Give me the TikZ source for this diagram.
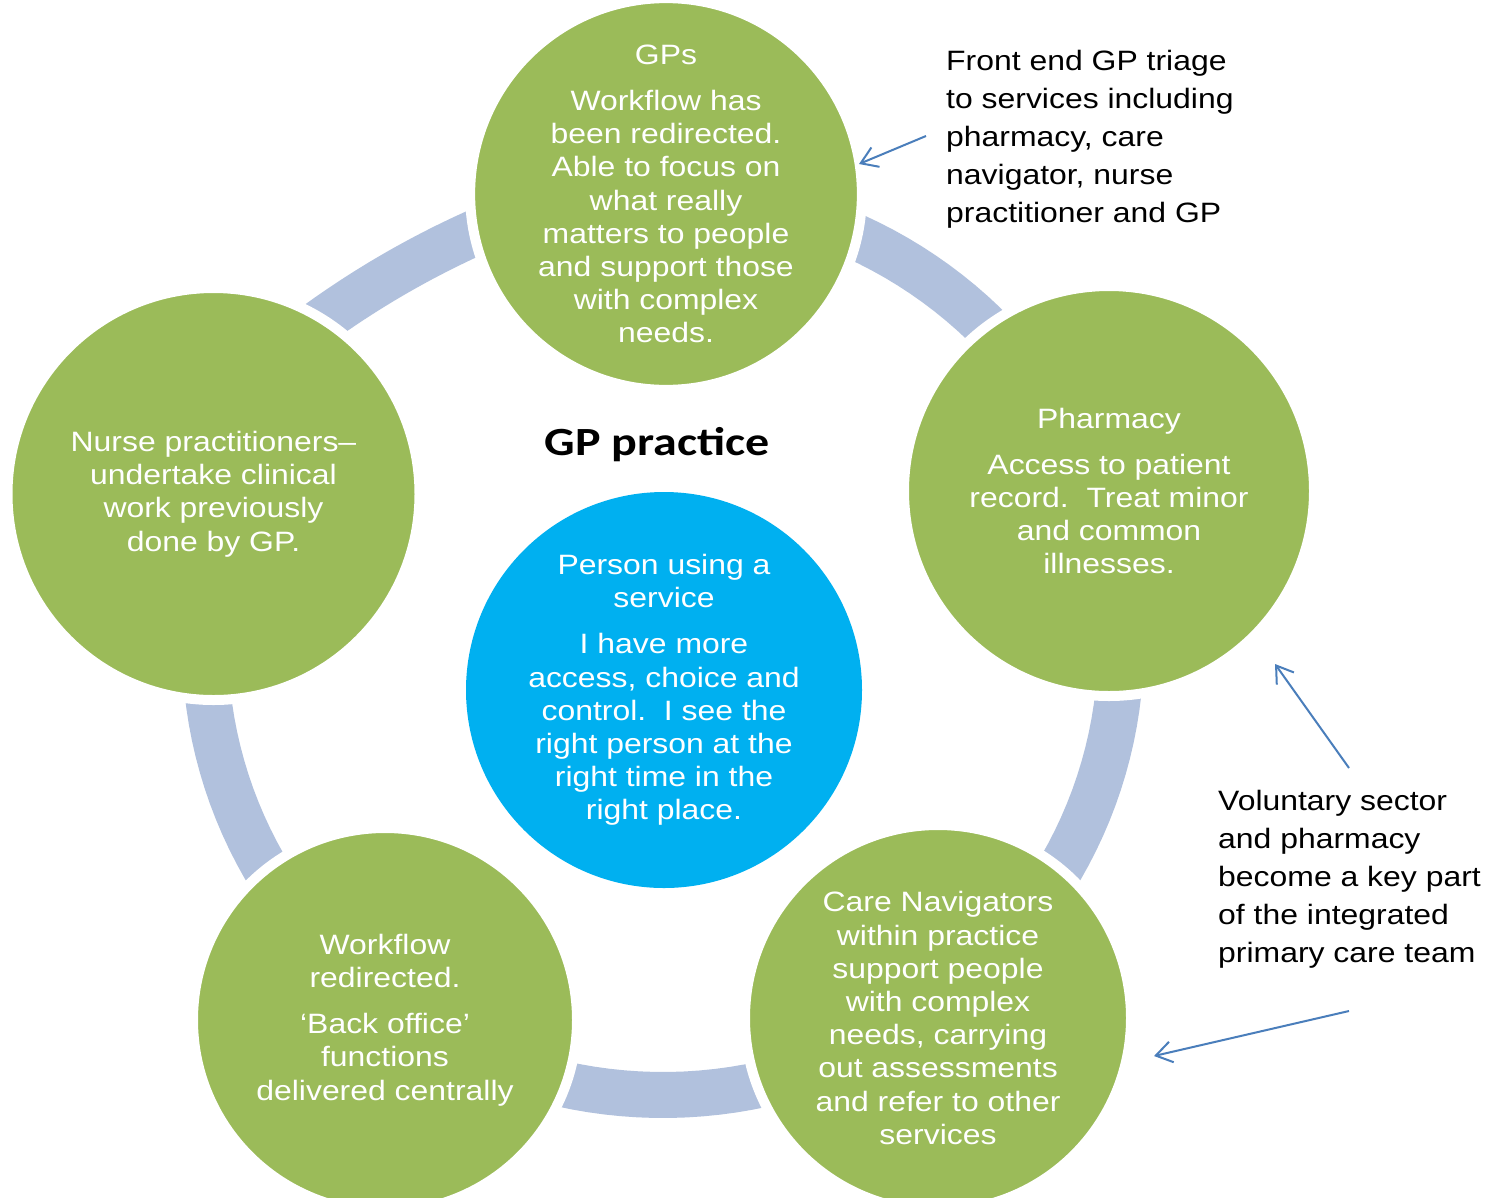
\documentclass[tikz,border=0pt]{standalone}
\usepackage{fontspec}
\setmainfont{Liberation Sans}[FakeStretch=1.14]
\newfontfamily\titlefont{Carlito}[FakeStretch=1.2]
\usetikzlibrary{arrows.meta}
\definecolor{leaf}{HTML}{9BBB59}
\definecolor{sky}{HTML}{00B0F0}
\definecolor{ringc}{RGB}{177,193,221}
\definecolor{arrowc}{HTML}{4A7EBB}
\tikzset{
  bubble/.style={circle, fill=leaf, draw=white, line width=10pt, text=white,
    align=center, inner sep=0pt, font=\fontsize{28}{33.2}\selectfont},
  hub/.style={circle, fill=sky, draw=none, text=white,
    align=center, inner sep=0pt, font=\fontsize{28}{33.2}\selectfont},
  ringband/.style={draw=ringc, line width=46pt},
  note/.style={anchor=west, align=left, inner sep=0pt, text=black,
    font=\fontsize{28}{38}\selectfont},
  heading/.style={inner sep=0pt, text=black, font=\titlefont\bfseries\fontsize{40}{48}\selectfont},
  pointer/.style={draw=arrowc, line width=2pt, -{Straight Barb[length=16pt,width=21pt]}}
}
\begin{document}
\begin{tikzpicture}[x=1pt,y=-1pt]
\useasboundingbox (0,0) rectangle (1487,1197);
\clip (0,0) rectangle (1487,1197);
\fill[white] (0,0) rectangle (1487,1197);
% ring: four segments on one ellipse, the upper-left one flatter
\draw[ringband] plot[domain=-95:200, samples=150] ({663+458*cos(\x)}, {645+450*sin(\x)});
\draw[ringband] plot[domain=232:249, samples=30] ({845+900*cos(\x)}, {1053+900*sin(\x)});
% circles
\node[bubble, minimum size=386pt] (gps) at (666,194)
  {GPs\\[13pt]Workflow has\\been redirected.\\Able to focus on\\what really\\matters to people\\and support those\\with complex\\needs.};
\node[bubble, minimum size=410pt] (pharmacy) at (1109,491)
  {Pharmacy\\[13pt]Access to patient\\record.\ \ Treat minor\\and common\\illnesses.};
\node[bubble, minimum size=386pt] (care) at (938,1018)
  {Care Navigators\\within practice\\support people\\with complex\\needs, carrying\\out assessments\\and refer to other\\services};
\node[bubble, minimum size=384pt] (workflow) at (385,1020)
  {Workflow\\redirected.\\[13pt]‘Back office’\\functions\\delivered centrally};
\node[bubble, minimum size=412pt] (nurse) at (213.5,494)
  {Nurse practitioners–\\undertake clinical\\work previously\\done by GP.};
\node[hub, minimum size=396pt] (person) at (664,690)
  {Person using a\\service\\[13pt]I have more\\access, choice and\\control.\ \ I see the\\right person at the\\right time in the\\right place.};
% title
\node[heading] (title) at (657,445) {GP practice};
% notes
\node[note] (triage) at (946,139) {Front end GP triage\\to services including\\pharmacy, care\\navigator, nurse\\practitioner and GP};
\node[note] (voluntary) at (1218,879) {Voluntary sector\\and pharmacy\\become a key part\\of the integrated\\primary care team};
% arrows
\coordinate (t1) at (926,136);
\coordinate (h1) at (859,164);
\coordinate (t2) at (1349,768);
\coordinate (h2) at (1275,664);
\coordinate (t3) at (1349,1011);
\coordinate (h3) at (1154,1056);
\draw[pointer] (t1) -- (h1);
\draw[pointer] (t2) -- (h2);
\draw[pointer] (t3) -- (h3);
\end{tikzpicture}
\end{document}
